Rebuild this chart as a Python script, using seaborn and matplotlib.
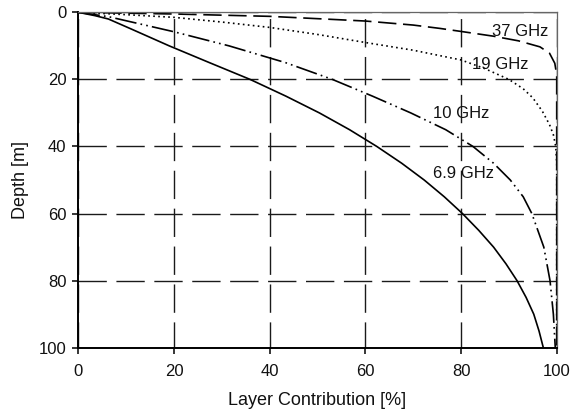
import matplotlib
matplotlib.use("Agg")
import matplotlib.pyplot as plt
import seaborn as sns
import pandas as pd

# Cumulative layer contribution (%) versus depth (m) for each frequency
depth_69 = [0, 1, 2, 5, 10, 15, 20, 25, 30, 35, 40, 45, 50, 55, 60, 65, 70, 75, 80, 85, 90, 95, 100]
contrib_69 = [0, 3.5, 6.3, 11.1, 19.0, 27.4, 35.9, 43.4, 50.4, 56.7, 62.4, 67.6, 72.3, 76.5, 80.3,
              83.7, 86.8, 89.4, 91.7, 93.6, 95.2, 96.3, 97.2]

depth_10 = [0, 1.3, 5.8, 10, 15, 20, 25, 30, 35, 40, 45, 50, 55, 60, 70, 80, 90, 100]
contrib_10 = [0, 6.3, 20, 31.5, 43.3, 53.1, 61.5, 69.5, 76.8, 82.5, 86.8, 90.3, 93.0, 94.8,
              97.3, 98.6, 99.3, 99.7]

depth_19 = [0, 0.7, 1.5, 2.9, 4.5, 6.6, 9.0, 11.3, 14.2, 16.8, 20.0, 22.8, 25.5, 29.5, 33.5,
            36.5, 40, 45, 100]
contrib_19 = [0, 10, 20, 30, 40, 50, 60, 70, 80, 85, 90, 93, 95, 97, 98.5,
              99.3, 99.8, 100, 100]

depth_37 = [0, 0.5, 1.2, 2.0, 2.6, 3.8, 4.8, 5.7, 7.1, 8.5, 10.3, 12.2, 15.2, 18.7, 25, 100]
contrib_37 = [0, 20, 40, 51.5, 60, 70, 75.6, 80, 86.7, 92, 96.5, 98.5, 99.6, 100, 100, 100]

labels = ["37 GHz", "19 GHz", "10 GHz", "6.9 GHz"]
label_x = [86.4, 82.2, 74.2, 74.1]
label_depth = [5.6, 15.7, 30.2, 48.1]

x_ticks = [0, 20, 40, 60, 80, 100]
y_ticks = [0, 20, 40, 60, 80, 100]

sns.set_theme(style="white")
plt.rcParams["font.family"] = ["Liberation Sans", "DejaVu Sans"]

fig = plt.figure(figsize=(5.7, 4.12), dpi=100)
ax = fig.add_axes([0.1374, 0.156, 0.8393, 0.8141])

series = [
    (contrib_37, depth_37, (0, (11.0, 4.0))),
    (contrib_19, depth_19, (0, (1.0, 2.0))),
    (contrib_10, depth_10, (0, (13.0, 2.5, 1.0, 2.5, 1.0, 2.5))),
    (contrib_69, depth_69, "solid"),
]
for xs, ds, ls in series:
    df = pd.DataFrame({"contribution": xs, "depth": ds})
    sns.lineplot(data=df, x="contribution", y="depth", ax=ax, sort=False,
                 estimator=None, color="black", linewidth=1.2, linestyle=ls)

for text, tx, ty in zip(labels, label_x, label_depth):
    ax.text(tx, ty, text, ha="left", va="center", fontsize=12, color="#111111")

ax.set_xlim(0, 100)
ax.set_ylim(100, 0)
ax.set_xticks(x_ticks)
ax.set_yticks(y_ticks)

# long-dash grid
ax.grid(False)
ax.yaxis.grid(True, color="#1a1a1a", linewidth=1.0, linestyle=(0, (20.4, 6.9)))
ax.xaxis.grid(True, color="#1a1a1a", linewidth=1.0, linestyle=(1.6, (20.4, 6.9)))
ax.set_axisbelow(True)

for side in ["left", "bottom"]:
    ax.spines[side].set_color("black")
    ax.spines[side].set_linewidth(1.4)
for side in ["top", "right"]:
    ax.spines[side].set_color("#666666")
    ax.spines[side].set_linewidth(0.9)

ax.tick_params(axis="both", which="major", direction="out", length=4, width=1.1,
               color="black", labelsize=12, labelcolor="#111111",
               left=True, bottom=True)
ax.tick_params(axis="x", pad=8)
ax.tick_params(axis="y", pad=4.5)

ax.set_xlabel("Layer Contribution [%]", fontsize=13, color="#111111", labelpad=9)
ax.set_ylabel("Depth [m]", fontsize=13, color="#111111", labelpad=7)

fig.savefig("out.png", dpi=100)
